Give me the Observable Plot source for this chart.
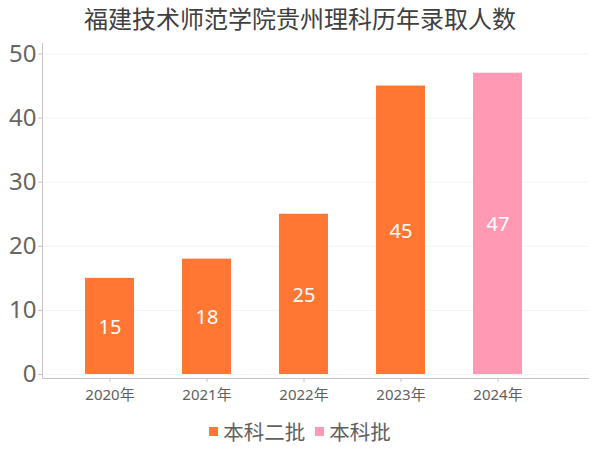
<!DOCTYPE html>
<html>
<head>
<meta charset="utf-8">
<script src="https://cdn.jsdelivr.net/npm/d3@7"></script>
<script src="https://cdn.jsdelivr.net/npm/@observablehq/plot@0.6"></script>
<style>
  html, body { margin: 0; padding: 0; background: #fff; }
  #wrap { position: relative; width: 600px; height: 450px; font-family: "Noto Sans", "Noto Sans CJK SC", sans-serif; }
  #title { position: absolute; left: 0; top: 2px; width: 600px; text-align: center; font-size: 24px; color: #404040; line-height: 32px; font-family: "Noto Sans CJK SC", sans-serif; }
  #legend { position: absolute; left: 0; top: 417px; width: 600px; display: flex; justify-content: center; align-items: center; font-size: 20.5px; color: #606060; line-height: 28px; font-family: "Noto Sans CJK SC", sans-serif; }
  .item { display: flex; align-items: center; margin: 0 5px; }
  .sw { width: 9px; height: 9px; margin-right: 5px; }
  #chart { position: absolute; left: 0; top: 0; }
</style>
</head>
<body>
<div id="wrap">
  <div id="chart"></div>
  <div id="title"></div>
  <div id="legend"></div>
</div>
<script>
const titleText = "福建技术师范学院贵州理科历年录取人数";
const years = ["2020年", "2021年", "2022年", "2023年", "2024年"];
const values = [15, 18, 25, 45, 47];
const batches = ["本科二批", "本科二批", "本科二批", "本科二批", "本科批"];
const seriesNames = ["本科二批", "本科批"];
const seriesColors = ["#FF7733", "#FF99B4"];
const yTicks = [0, 10, 20, 30, 40, 50];

const data = years.map((y, i) => ({year: y, value: values[i], batch: batches[i]}));

document.getElementById("title").textContent = titleText;

const chart = Plot.plot({
  width: 600,
  height: 450,
  marginLeft: 42,
  marginRight: 12,
  marginTop: 43,
  marginBottom: 72,
  style: {fontFamily: "'Noto Sans', 'Noto Sans CJK SC', sans-serif", background: "transparent"},
  x: {type: "band", domain: years, paddingInner: 0.5, paddingOuter: 0.25, insetLeft: 18, insetRight: 41},
  y: {domain: [0, 50], insetTop: 10.5, insetBottom: 4},
  color: {domain: seriesNames, range: seriesColors},
  marks: [
    Plot.gridY(yTicks, {stroke: "#f3f3f3", strokeOpacity: 1}),
    Plot.barY(data, {x: "year", y: "value", fill: "batch"}),
    Plot.text(data, {x: "year", y: d => d.value / 2, text: d => String(d.value), fill: "#fff", fontSize: 20, dy: 1}),
    Plot.frame({anchor: "left", stroke: "#c4c4c4"}),
    Plot.frame({anchor: "bottom", stroke: "#c4c4c4"}),
    Plot.axisY(yTicks, {tickSize: 4, tickPadding: 2, fontSize: 24, stroke: "#c4c4c4", fill: "#666", label: null}),
    Plot.axisX({tickSize: 4, tickPadding: 7, fontSize: 15, stroke: "#c4c4c4", fill: "#606060", label: null})
  ]
});
document.getElementById("chart").appendChild(chart);

const legend = document.getElementById("legend");
seriesNames.forEach((n, i) => {
  const it = document.createElement("div");
  it.className = "item";
  const sw = document.createElement("div");
  sw.className = "sw";
  sw.style.background = seriesColors[i];
  const tx = document.createElement("span");
  tx.textContent = n;
  it.appendChild(sw);
  it.appendChild(tx);
  legend.appendChild(it);
});
</script>
</body>
</html>
